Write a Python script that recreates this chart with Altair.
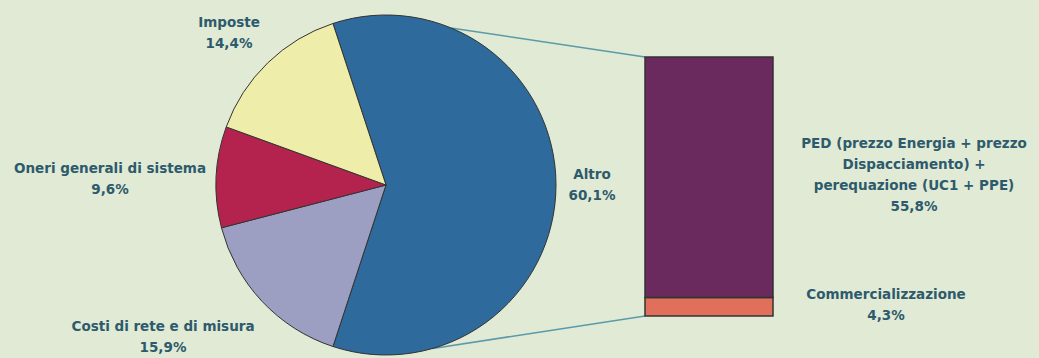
import altair as alt
import pandas as pd
import math

# ---- data ----
pie_labels = ["Altro", "Costi di rete e di misura", "Oneri generali di sistema", "Imposte"]
pie_values = [60.1, 15.9, 9.6, 14.4]
pie_text = ["Altro\n60,1%", "Costi di rete e di misura\n15,9%", "Oneri generali di sistema\n9,6%", "Imposte\n14,4%"]
pie_colors = ["#2f6a9c", "#9d9fc2", "#b3234e", "#eeeeaa"]

bar_labels = ["Commercializzazione", "PED"]
bar_values = [4.3, 55.8]
bar_text = ["Commercializzazione\n4,3%",
            "PED (prezzo Energia + prezzo\nDispacciamento) +\nperequazione (UC1 + PPE)\n55,8%"]
bar_colors = ["#e0705c", "#6a2a5e"]

# ---- layout ----
W, H = 1039, 358
CX, CY, R = 386, 185, 170
start = -math.radians(pie_values[0] / 100 * 360 / 2 - 90)
pie_text_pos = [(592, 175), (163, 327), (110, 169), (229, 23)]
bar_text_pos = [(886, 295), (914, 144)]
BAR_X0, BAR_X1, BAR_TOP, BAR_BOT = 645, 773, 57, 316
BG = "#e0ead4"
TXT = "#2d5a6c"

pie_df = pd.DataFrame({"label": pie_labels, "value": pie_values,
                       "order": list(range(len(pie_labels)))})
bar_df = pd.DataFrame({"label": bar_labels, "value": bar_values,
                       "order": list(range(len(bar_labels)))})

pie = alt.Chart(pie_df).mark_arc(radius=R, stroke="#333333", strokeWidth=1).encode(
    theta=alt.Theta("value:Q", stack=True,
                    scale=alt.Scale(range=[start, start + 2 * math.pi])),
    order=alt.Order("order:Q"),
    color=alt.Color("label:N", scale=alt.Scale(domain=pie_labels, range=pie_colors), legend=None),
    x=alt.value(CX), y=alt.value(CY),
)

ys = alt.Scale(domain=[0, sum(bar_values)], range=[BAR_BOT, BAR_TOP])
bar = alt.Chart(bar_df).transform_stack(
    stack="value", as_=["y0", "y1"], groupby=[], sort=[alt.SortField("order", order="ascending")]
).mark_rect(stroke="#333333", strokeWidth=1.5).encode(
    x=alt.value(BAR_X0), x2=alt.value(BAR_X1),
    y=alt.Y("y0:Q", scale=ys, axis=None),
    y2="y1:Q",
    fill=alt.Fill("label:N", scale=alt.Scale(domain=bar_labels, range=bar_colors), legend=None),
)

# connector lines
top_ang = math.radians(22.5)
bot_ang = math.radians(164)
conn_df = pd.DataFrame({"k": ["top", "bot"]})
line_top = alt.Chart(conn_df.iloc[:1]).mark_rule(color="#5a9aaa", strokeWidth=1.5).encode(
    x=alt.value(CX + R * math.sin(top_ang)), y=alt.value(CY - R * math.cos(top_ang)),
    x2=alt.value(BAR_X0), y2=alt.value(BAR_TOP))
line_bot = alt.Chart(conn_df.iloc[1:]).mark_rule(color="#5a9aaa", strokeWidth=1.5).encode(
    x=alt.value(CX + R * math.sin(bot_ang)), y=alt.value(CY - R * math.cos(bot_ang)),
    x2=alt.value(BAR_X0), y2=alt.value(BAR_BOT))

def label(text, pos):
    return alt.Chart(pd.DataFrame({"t": [text]})).mark_text(
        font="DejaVu Sans", fontSize=13.5, fontWeight="bold", color=TXT,
        lineBreak="\n", lineHeight=21, align="center", baseline="middle",
    ).encode(text="t:N", x=alt.value(pos[0]), y=alt.value(pos[1]))

layers = [line_top, line_bot, pie, bar]
layers += [label(t, p) for t, p in zip(pie_text, pie_text_pos)]
layers += [label(t, p) for t, p in zip(bar_text, bar_text_pos)]

chart = alt.layer(*layers).resolve_scale(color="independent", fill="independent").properties(
    width=W, height=H, background=BG, padding=0,
    autosize=alt.AutoSizeParams(type="none"),
).configure_view(stroke=None)

chart.save("out.html", embed_options={"renderer": "svg", "actions": False})
